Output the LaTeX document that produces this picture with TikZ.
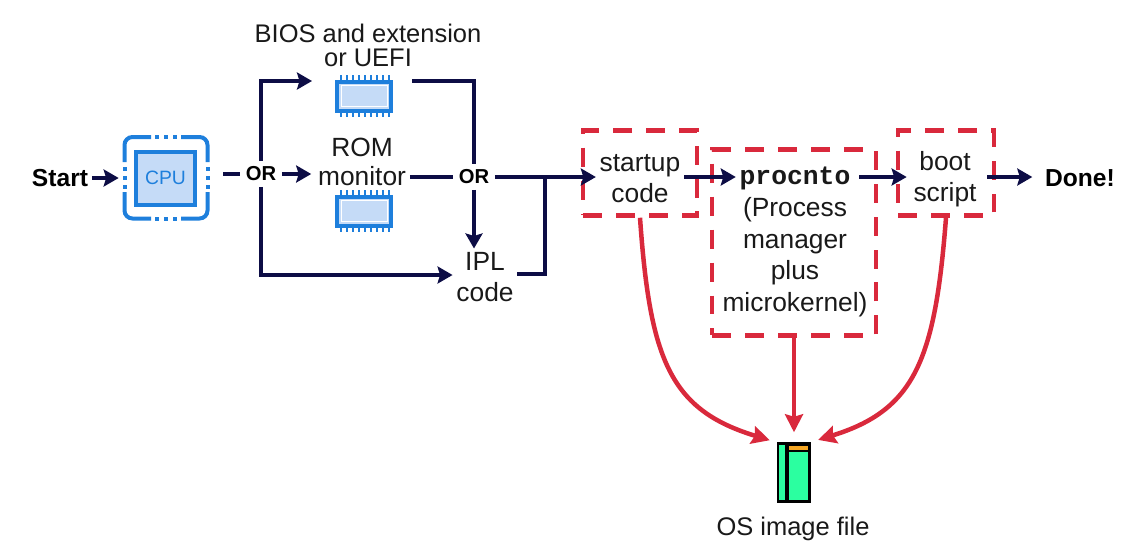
\documentclass[tikz,border=0pt]{standalone}
\usepackage{fontspec}
\setmainfont{Liberation Sans}
\setmonofont{Liberation Mono}
\usetikzlibrary{arrows.meta, calc}
\definecolor{customnavy}{HTML}{0D0D45}
\definecolor{customred}{HTML}{D9293C}
\definecolor{customblue}{HTML}{1E7FDC}
\definecolor{customsky}{HTML}{C5DBF7}
\definecolor{customgreen}{HTML}{2BFFA0}
\definecolor{customorange}{HTML}{F5A623}
\tikzset{
  txt/.style={font=\fontsize{15}{17.6}\selectfont, align=center, inner sep=2pt, text=black!90},
  boldtxt/.style={font=\fontsize{14}{17}\selectfont\bfseries, inner sep=2pt},
  ortxt/.style={font=\fontsize{11.5}{14}\selectfont\bfseries, inner sep=3pt},
  flowline/.style={line width=0.085cm, customnavy},
  flow/.style={flowline, -{Stealth[length=0.3cm, width=0.34cm, inset=0.05cm]}},
  imgflow/.style={line width=0.09cm, customred, -{Stealth[length=0.36cm, width=0.36cm, inset=0.05cm]}},
  imgbox/.style={draw=customred, line width=0.09cm, dash pattern=on 0.38cm off 0.28cm, inner sep=0pt},
  chip/.style={draw=customblue, fill=customsky, line width=0.08cm, minimum width=1.08cm, minimum height=0.58cm, inner sep=0pt},
  chipcore/.style={draw=white, fill=customsky, line width=0.02cm, minimum width=0.92cm, minimum height=0.42cm, inner sep=0pt},
  pin/.style={customblue, line width=0.05cm},
  cpuline/.style={customblue, line width=0.08cm}
}

\begin{document}
\begin{tikzpicture}[x=0.02cm, y=-0.02cm]
\useasboundingbox (0,0) rectangle (1146,552);

\node[boldtxt] (start) at (60,178) {Start};
\node[minimum width=1.72cm, minimum height=1.7cm, inner sep=0pt] (cpuframe) at (166,178) {};
\node[draw=customblue, fill=customsky, line width=0.08cm, minimum width=1.18cm, minimum height=1.06cm, inner sep=0pt, text=customblue, font=\fontsize{11}{13}\selectfont] (cpu) at (165.5,178) {CPU};
\draw[cpuline, rounded corners=0.16cm] (151,137) -| (124.5,162) (124.5,192) |- (151,218.5) (181,218.5) -| (207.5,192) (207.5,162) |- (181,137);
\foreach \d in {-9,0,9} {
  \draw[cpuline] ({166+\d-2},137) -- ({166+\d+2},137);
  \draw[cpuline] ({166+\d-2},218.5) -- ({166+\d+2},218.5);
  \draw[cpuline] (124.5,{178+\d-2}) -- (124.5,{178+\d+2});
  \draw[cpuline] (207.5,{178+\d-2}) -- (207.5,{178+\d+2});
}

\node[ortxt] (orA) at (261,174) {OR};
\node[ortxt] (orB) at (474,177) {OR};

\node[txt, font=\fontsize{14.5}{13.7}\selectfont] (bios) at (368,45) {BIOS and extension\\or UEFI};
\node[txt, font=\fontsize{15}{16.5}\selectfont] (rom) at (362,162) {ROM\\monitor};
\foreach \nm/\yy in {chipA/96, chipB/211} {
  \foreach \xx in {341,347,...,389} {
    \draw[pin] (\xx,\yy-21) -- (\xx,\yy+21);
  }
  \node[chip] (\nm) at (364,\yy) {};
  \node[chipcore] (\nm core) at (\nm) {};
}
\coordinate (chipAin) at (312,81);
\coordinate (chipAout) at (412,81);
\coordinate (merge) at (545,177);

\node[txt] (ipl) at (485,277) {IPL\\code};

\node[imgbox, minimum width=2.28cm, minimum height=1.7cm] (startupbox) at (640,173) {};
\node[imgbox, minimum width=3.28cm, minimum height=3.72cm] (procntobox) at (794,242.5) {};
\node[imgbox, minimum width=1.92cm, minimum height=1.7cm] (bootbox) at (946,173) {};

\node[txt] (startup) at (640,179) {startup\\code};
\node[txt, font=\fontsize{15}{17.6}\selectfont\ttfamily\bfseries] (procnto) at (795,178) {procnto};
\node[txt, font=\fontsize{15}{18}\selectfont] (procdesc) at (795,257) {(Process\\manager\\plus\\microkernel)};
\node[txt] (boot) at (945,179) {boot\\script};
\node[boldtxt] (done) at (1080,178) {Done!};

\node[draw=black, fill=customgreen, line width=0.05cm, minimum width=0.63cm, minimum height=1.16cm, inner sep=0pt] (imagefile) at (793.5,472.5) {};
\fill[black] (785,444) rectangle (789,501);
\fill[black] (785,444) rectangle (809,452);
\fill[customorange] (789,445.5) rectangle (808,449.5);
\node[txt, font=\fontsize{14.5}{17}\selectfont] (imagelabel) at (793,529) {OS image file};

\draw[flow, shorten >=0.08cm] (start) -- (cpuframe);
\draw[flowline, shorten <=0.28cm] (cpuframe.east |- orA) -- (orA);
\draw[flow, shorten >=0.06cm] (orA) -- (rom.west |- orA);
\draw[flow] (orA) |- (chipAin);
\draw[flow] ([xshift=0cm]orA.south) |- ([yshift=0.04cm]ipl.west);
\draw[flowline] (chipAout) -| (orB);
\draw[flowline] (rom.east |- orB) -- (orB);
\draw[flow] (orB) -- (ipl.north -| orB);
\draw[flow] (orB) -- (startup.west |- orB);
\draw[flowline] ([yshift=0.06cm]ipl.east) -| (merge);
\draw[flow] (startup.east |- merge) -- (procnto.west |- merge);
\draw[flow, shorten <=0.1cm, shorten >=0.06cm] (procnto.east |- merge) -- (boot.west |- merge);
\draw[flow, shorten <=0.14cm, shorten >=0.18cm] (boot.east |- merge) -- (done.west |- merge);

\draw[imgflow, shorten >=0.14cm] (startupbox.south) .. controls (650,360) and (670,410) .. (imagefile.north west);
\draw[imgflow, shorten >=0.2cm] (procntobox.south) -- (imagefile.north -| procntobox);
\draw[imgflow, shorten >=0.16cm] (bootbox.south) .. controls (935,360) and (915,410) .. (imagefile.north east);
\end{tikzpicture}
\end{document}
